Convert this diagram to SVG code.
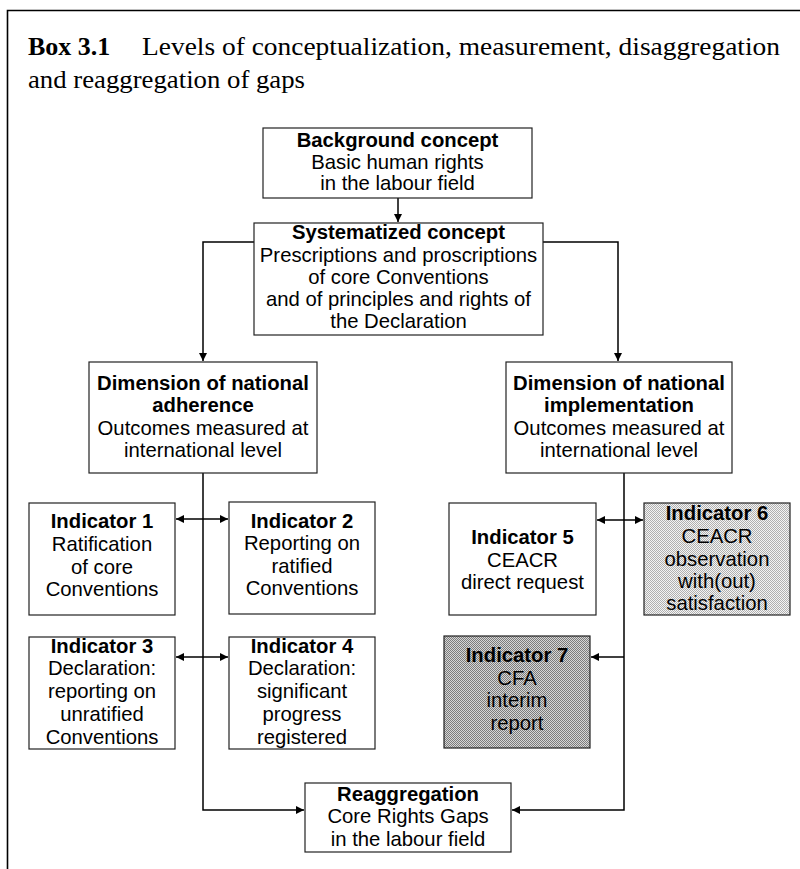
<svg xmlns="http://www.w3.org/2000/svg" width="800" height="869" viewBox="0 0 800 869">
<style>
  .box{fill:#fff;stroke:#222;stroke-width:1.2}
  .t{font-family:"Liberation Sans",Arial,sans-serif;font-size:20.3px;fill:#000;text-anchor:middle}
  .b{font-weight:bold}
  .ttl{font-family:"Liberation Serif","Times New Roman",serif;font-size:26px;fill:#000}
  .c{fill:none;stroke:#000;stroke-width:1.5}
</style>
<defs>
  <pattern id="p6" width="2" height="2" patternUnits="userSpaceOnUse">
    <rect width="2" height="2" fill="#f4f4f4"/>
    <rect width="1" height="1" fill="#b0b0b0"/>
    <rect x="1" y="1" width="1" height="1" fill="#b0b0b0"/>
  </pattern>
  <pattern id="p7" width="2" height="2" patternUnits="userSpaceOnUse">
    <rect width="2" height="2" fill="#d6d6d6"/>
    <rect width="1" height="1" fill="#7c7c7c"/>
    <rect x="1" y="1" width="1" height="1" fill="#7c7c7c"/>
  </pattern>
  <marker id="ah" viewBox="0 0 10 10" refX="10" refY="5" markerWidth="8" markerHeight="8" orient="auto-start-reverse" markerUnits="userSpaceOnUse">
    <path d="M0,0 L10,5 L0,10 z" fill="#000"/>
  </marker>
</defs>

<g id="frame">
  <path d="M800 10.5 H7.5 V869" fill="none" stroke="#000" stroke-width="1.6"/>
  <text class="ttl" x="28" y="55"><tspan font-weight="bold">Box 3.1</tspan><tspan x="142" textLength="638" lengthAdjust="spacingAndGlyphs">Levels of conceptualization, measurement, disaggregation</tspan></text>
  <text class="ttl" x="28" y="88" textLength="277" lengthAdjust="spacingAndGlyphs">and reaggregation of gaps</text>
</g>

<g id="connectors">
  <path class="c" d="M398 198 V222" marker-end="url(#ah)"/>
  <path class="c" d="M254 242 H203 V361" marker-end="url(#ah)"/>
  <path class="c" d="M543 242 H618 V361" marker-end="url(#ah)"/>
  <path class="c" d="M203 473 V810 H304" marker-end="url(#ah)"/>
  <path class="c" d="M624 473 V810 H512" marker-end="url(#ah)"/>
  <path class="c" d="M176 519 H228" marker-start="url(#ah)" marker-end="url(#ah)"/>
  <path class="c" d="M176 657 H228" marker-start="url(#ah)" marker-end="url(#ah)"/>
  <path class="c" d="M597 520 H643" marker-start="url(#ah)" marker-end="url(#ah)"/>
  <path class="c" d="M624 657 H591" marker-end="url(#ah)"/>
</g>

<g id="background">
  <rect class="box" x="263" y="128" width="269" height="70"/>
  <text class="t b" x="397.5" y="147">Background concept</text>
  <text class="t" x="397.5" y="168.5">Basic human rights</text>
  <text class="t" x="397.5" y="190">in the labour field</text>
</g>

<g id="systematized">
  <rect class="box" x="254" y="223" width="289" height="112"/>
  <text class="t b" x="398.5" y="239">Systematized concept</text>
  <text class="t" x="398.5" y="261.5">Prescriptions and proscriptions</text>
  <text class="t" x="398.5" y="284">of core Conventions</text>
  <text class="t" x="398.5" y="306">and of principles and rights of</text>
  <text class="t" x="398.5" y="328">the Declaration</text>
</g>

<g id="adherence">
  <rect class="box" x="89" y="362" width="228" height="111"/>
  <text class="t b" x="203" y="390">Dimension of national</text>
  <text class="t b" x="203" y="412">adherence</text>
  <text class="t" x="203" y="435">Outcomes measured at</text>
  <text class="t" x="203" y="457">international level</text>
</g>

<g id="implementation">
  <rect class="box" x="506" y="362" width="226" height="111"/>
  <text class="t b" x="619" y="390">Dimension of national</text>
  <text class="t b" x="619" y="412">implementation</text>
  <text class="t" x="619" y="435">Outcomes measured at</text>
  <text class="t" x="619" y="457">international level</text>
</g>

<g id="indicator1">
  <rect class="box" x="29" y="503" width="146" height="112"/>
  <text class="t b" x="102" y="528">Indicator 1</text>
  <text class="t" x="102" y="551">Ratification</text>
  <text class="t" x="102" y="574">of core</text>
  <text class="t" x="102" y="596">Conventions</text>
</g>

<g id="indicator2">
  <rect class="box" x="229" y="502" width="146" height="112"/>
  <text class="t b" x="302" y="528">Indicator 2</text>
  <text class="t" x="302" y="550">Reporting on</text>
  <text class="t" x="302" y="573">ratified</text>
  <text class="t" x="302" y="595">Conventions</text>
</g>

<g id="indicator3">
  <rect class="box" x="29" y="637" width="146" height="112"/>
  <text class="t b" x="102" y="653">Indicator 3</text>
  <text class="t" x="102" y="675">Declaration:</text>
  <text class="t" x="102" y="698">reporting on</text>
  <text class="t" x="102" y="721">unratified</text>
  <text class="t" x="102" y="744">Conventions</text>
</g>

<g id="indicator4">
  <rect class="box" x="229" y="637" width="146" height="112"/>
  <text class="t b" x="302" y="653">Indicator 4</text>
  <text class="t" x="302" y="675">Declaration:</text>
  <text class="t" x="302" y="698">significant</text>
  <text class="t" x="302" y="721">progress</text>
  <text class="t" x="302" y="744">registered</text>
</g>

<g id="indicator5">
  <rect class="box" x="449" y="503" width="147" height="112"/>
  <text class="t b" x="522.5" y="544">Indicator 5</text>
  <text class="t" x="522.5" y="567">CEACR</text>
  <text class="t" x="522.5" y="589">direct request</text>
</g>

<g id="indicator6">
  <rect class="box" x="644" y="503" width="146" height="112" style="fill:url(#p6)"/>
  <text class="t b" x="717" y="520">Indicator 6</text>
  <text class="t" x="717" y="543">CEACR</text>
  <text class="t" x="717" y="566">observation</text>
  <text class="t" x="717" y="588">with(out)</text>
  <text class="t" x="717" y="610">satisfaction</text>
</g>

<g id="indicator7">
  <rect class="box" x="444" y="636" width="146" height="112" style="fill:url(#p7)"/>
  <text class="t b" x="517" y="662">Indicator 7</text>
  <text class="t" x="517" y="685">CFA</text>
  <text class="t" x="517" y="707">interim</text>
  <text class="t" x="517" y="730">report</text>
</g>

<g id="reaggregation">
  <rect class="box" x="305" y="783" width="206" height="69"/>
  <text class="t b" x="408" y="801">Reaggregation</text>
  <text class="t" x="408" y="823">Core Rights Gaps</text>
  <text class="t" x="408" y="846">in the labour field</text>
</g>
</svg>
